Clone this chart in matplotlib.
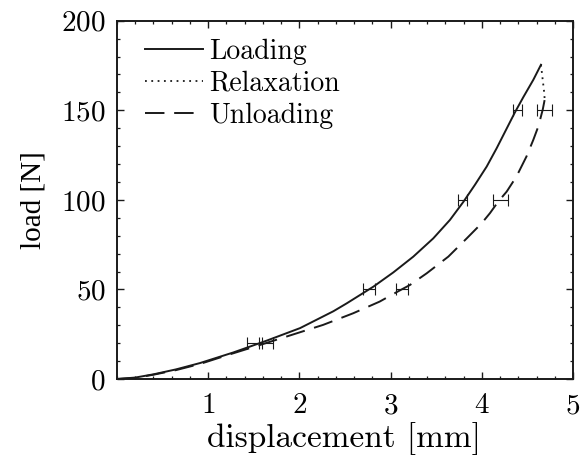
import numpy as np
import matplotlib
matplotlib.use("Agg")
import matplotlib.pyplot as plt
from matplotlib.ticker import MultipleLocator

# load-displacement curves
load_x = [0, 0.2, 0.4, 0.65, 0.91, 1.275, 1.641, 2.007, 2.372, 2.518, 2.81,
          3.03, 3.249, 3.468, 3.651, 3.797, 3.925, 4.054, 4.163, 4.273, 4.364,
          4.455, 4.565, 4.649]
load_y = [0, 0.8, 2.6, 5.4, 8.9, 14.8, 21.4, 28.4, 37.8, 42.2, 51.5,
          59.5, 68.3, 78.5, 88.8, 98.8, 108.4, 118.6, 128.8, 139.8, 148.9,
          157.3, 167.0, 175.4]

relax_x = [4.649, 4.668, 4.682, 4.69]
relax_y = [175.4, 167, 161, 156]

unload_x = [0, 0.2, 0.4, 0.65, 0.91, 1.24, 1.60, 1.878, 2.26, 2.59, 2.88,
            3.067, 3.213, 3.396, 3.633, 3.835, 4.0, 4.09, 4.18, 4.273, 4.38,
            4.49, 4.565, 4.62, 4.668, 4.69]
unload_y = [0, 0.6, 2.4, 5.0, 8.4, 13.8, 19.5, 24.0, 30.2, 36.7, 43.2,
            48.5, 52.5, 59.0, 68.3, 78.5, 87.0, 92.6, 99.0, 104.6, 113.0,
            124.2, 133.5, 141.0, 150.3, 156]

# horizontal error bars
bar_load = [20, 50, 100, 150]
bar_load_x = [1.507, 2.763, 3.79, 4.39]
bar_load_err = [0.086, 0.069, 0.05, 0.046]
bar_unload_x = [1.633, 3.125, 4.21, 4.69]
bar_unload_err = [0.08, 0.069, 0.082, 0.084]

plt.rcParams['font.family'] = 'cmr10'
plt.rcParams['axes.formatter.use_mathtext'] = True

fig = plt.figure(figsize=(5.81, 4.58), dpi=100)
ax = fig.add_axes([0.2014, 0.1725, 0.7848, 0.7823])

ink = '#1a1a1a'
ax.plot(load_x, load_y, color=ink, lw=1.4, label='Loading')
ax.plot(relax_x, relax_y, color=ink, lw=1.3, dashes=(1, 2.5), label='Relaxation')
ax.plot(unload_x, unload_y, color=ink, lw=1.4, dashes=(10, 5), label='Unloading')

ax.errorbar(bar_load_x, bar_load, xerr=bar_load_err, fmt='none', ecolor=ink,
            elinewidth=0.8, capsize=4, capthick=0.8)
ax.errorbar(bar_unload_x, bar_load, xerr=bar_unload_err, fmt='none', ecolor=ink,
            elinewidth=0.8, capsize=4, capthick=0.8)

ax.set_xlim(0, 5)
ax.set_ylim(0, 200)
ax.set_xticks([1, 2, 3, 4, 5])
ax.set_yticks([0, 50, 100, 150, 200])
ax.xaxis.set_minor_locator(MultipleLocator(0.2))
ax.yaxis.set_minor_locator(MultipleLocator(10))
ax.tick_params(which='both', direction='in', top=True, right=True, color=ink)
ax.tick_params(which='major', length=5, width=1.0, labelsize=21)
ax.tick_params(axis='x', which='major', pad=10)
ax.tick_params(axis='y', which='major', pad=8)
ax.tick_params(which='minor', length=2.5, width=0.9)
for s in ax.spines.values():
    s.set_linewidth(1.4)
    s.set_color(ink)

ax.set_xlabel('displacement [mm]', fontsize=24)
ax.xaxis.set_label_coords(0.497, -0.12)
ax.set_ylabel('load [N]', fontsize=21, family='Liberation Serif')
ax.yaxis.set_label_coords(-0.155, 0.5)

ax.legend(loc='upper left', bbox_to_anchor=(0.0614, 0.95), frameon=False,
          fontsize=20, borderpad=0, borderaxespad=0, handlelength=2.1,
          handletextpad=0.2, labelspacing=0.2)

fig.savefig('out.png', dpi=100)
